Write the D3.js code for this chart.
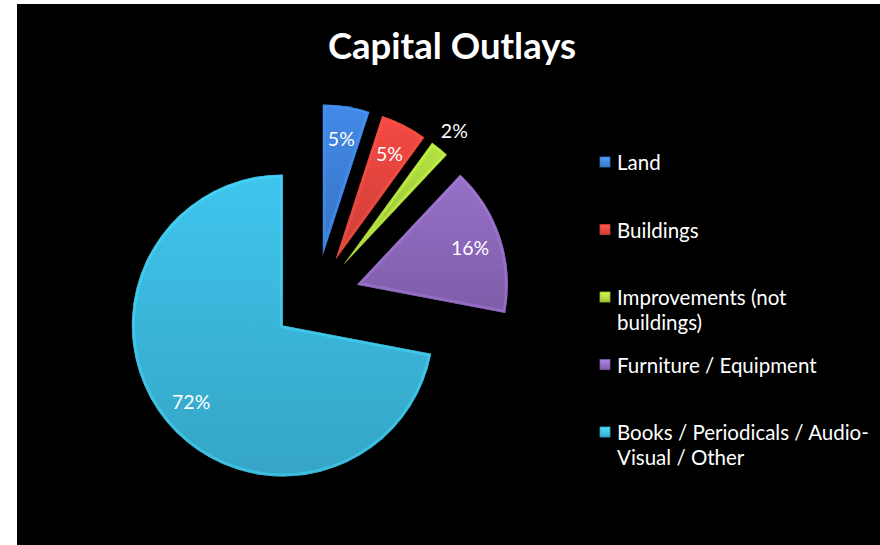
<!DOCTYPE html>
<html>
<head>
<meta charset="utf-8">
<script src="https://cdn.jsdelivr.net/npm/d3@7"></script>
<style>
  html, body { margin: 0; padding: 0; background: #ffffff; }
  svg { display: block; }
</style>
</head>
<body>
<svg id="chart" width="880" height="545"></svg>
<script>
// Capital outlay shares, in percent
const categories = ["Land", "Buildings", "Improvements (not buildings)", "Furniture / Equipment", "Books / Periodicals / Audio-Visual / Other"];
const values = [5, 5, 2, 16, 72];
const colors = ["#3c7ed4", "#df443c", "#a6d03b", "#8a66b8", "#3ab4d9"];
// Legend text, already broken into lines
const legendLines = [["Land"], ["Buildings"], ["Improvements (not", "buildings)"], ["Furniture / Equipment"], ["Books / Periodicals / Audio-", "Visual / Other"]];
const title = "Capital Outlays";

const FONT = "Lato, 'Open Sans', sans-serif";
const svg = d3.select("#chart");
const defs = svg.append("defs");

// black chart area
svg.append("rect").attr("x", 17).attr("y", 4).attr("width", 863).attr("height", 541).attr("fill", "#000");

svg.append("text")
  .attr("x", 452).attr("y", 59)
  .attr("text-anchor", "middle")
  .attr("fill", "#fff")
  .attr("font-family", FONT)
  .attr("font-weight", "bold")
  .attr("font-size", 36.5)
  .text(title);

// pie geometry
const cx = 316, cy = 298, radius = 151, explode = 43;
const pie = d3.pie().sort(null).value(d => d)(values);
const arc = d3.arc().innerRadius(0).outerRadius(radius);

// vertical shading per slice
colors.forEach((c, i) => {
  const g = defs.append("linearGradient").attr("id", "grad" + i)
    .attr("x1", 0).attr("y1", 0).attr("x2", 0).attr("y2", 1);
  g.append("stop").attr("offset", "0%").attr("stop-color", d3.color(c).brighter(0.25));
  g.append("stop").attr("offset", "100%").attr("stop-color", d3.color(c).darker(0.25));
  const m = defs.append("linearGradient").attr("id", "mgrad" + i)
    .attr("x1", 0).attr("y1", 0).attr("x2", 0).attr("y2", 1);
  m.append("stop").attr("offset", "0%").attr("stop-color", d3.color(c).brighter(0.7));
  m.append("stop").attr("offset", "100%").attr("stop-color", d3.color(c).darker(0.2));
});

const slices = svg.append("g").attr("transform", `translate(${cx},${cy})`);
pie.forEach((p, i) => {
  const mid = (p.startAngle + p.endAngle) / 2;
  const dx = Math.sin(mid) * explode, dy = -Math.cos(mid) * explode;
  const g = slices.append("g").attr("transform", `translate(${dx},${dy})`);
  const clipId = "clip" + i;
  defs.append("clipPath").attr("id", clipId).append("path").attr("d", arc(p));
  g.append("path").attr("d", arc(p)).attr("fill", `url(#grad${i})`);
  // soft bevel rim just inside the slice edge
  g.append("path").attr("d", arc(p))
    .attr("fill", "none")
    .attr("stroke", d3.color(colors[i]).brighter(0.6))
    .attr("stroke-opacity", 0.45)
    .attr("stroke-width", 6)
    .attr("stroke-linejoin", "round")
    .attr("clip-path", `url(#${clipId})`);
  g.append("path").attr("d", arc(p))
    .attr("fill", "none")
    .attr("stroke", d3.color(colors[i]).darker(0.4))
    .attr("stroke-opacity", 0.5)
    .attr("stroke-width", 1.2)
    .attr("clip-path", `url(#${clipId})`);
});

// percentage labels along each slice's middle angle
const labels = svg.append("g").attr("transform", `translate(${cx},${cy})`);
pie.forEach((p, i) => {
  const mid = (p.startAngle + p.endAngle) / 2;
  const r = p.value < 3 ? 217 : 162;
  labels.append("text")
    .attr("x", Math.sin(mid) * r)
    .attr("y", -Math.cos(mid) * r)
    .attr("text-anchor", "middle")
    .attr("dominant-baseline", "central")
    .attr("fill", "#fff")
    .attr("font-family", FONT)
    .attr("font-size", 19.5)
    .text(d3.format(".0f")(p.value) + "%");
});

// legend
const legendY = d3.scalePoint().domain(categories).range([170, 440]);
const legend = svg.append("g");
categories.forEach((c, i) => {
  const y = legendY(c);
  legend.append("rect")
    .attr("x", 600).attr("y", y - 13).attr("width", 10).attr("height", 10)
    .attr("fill", `url(#mgrad${i})`)
    .attr("stroke", d3.color(colors[i]).darker(0.3)).attr("stroke-width", 0.8);
  const t = legend.append("text")
    .attr("x", 617).attr("y", y)
    .attr("fill", "#fff")
    .attr("font-family", FONT)
    .attr("font-size", 20.5);
  legendLines[i].forEach((line, k) => {
    t.append("tspan").attr("x", 617).attr("dy", k === 0 ? 0 : 25).text(line);
  });
});
</script>
</body>
</html>
